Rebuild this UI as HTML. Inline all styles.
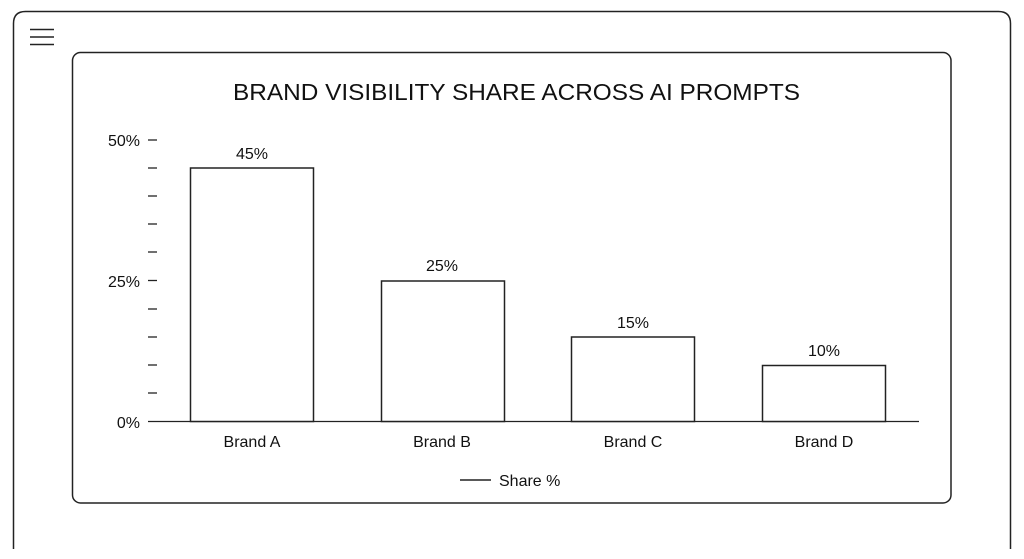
<!DOCTYPE html>
<html><head><style>
html,body{margin:0;padding:0;background:#fff;width:1024px;height:559px;overflow:hidden}
</style></head><body>
<svg width="1024" height="559" xmlns="http://www.w3.org/2000/svg" font-family="Liberation Sans, sans-serif">
<path d="M13.5 549 V23.5 Q13.5 11.5 25.5 11.5 H998.5 Q1010.5 11.5 1010.5 23.5 V549" fill="none" stroke="#222" stroke-width="1.5"/>
<g stroke="#222" stroke-width="1.6"><line x1="30" y1="29.5" x2="54" y2="29.5"/><line x1="30" y1="37" x2="54" y2="37"/><line x1="30" y1="44.5" x2="54" y2="44.5"/></g>
<rect x="72.5" y="52.5" width="878.5" height="450.5" rx="8" fill="#fff" stroke="#222" stroke-width="1.5"/>
<text x="233" y="100" font-size="23.5" fill="#111" textLength="567" lengthAdjust="spacingAndGlyphs">BRAND VISIBILITY SHARE ACROSS AI PROMPTS</text>
<g stroke="#222" stroke-width="1.3">
<line x1="148" y1="140" x2="157" y2="140"/><line x1="148" y1="168" x2="157" y2="168"/><line x1="148" y1="196" x2="157" y2="196"/><line x1="148" y1="224" x2="157" y2="224"/><line x1="148" y1="252" x2="157" y2="252"/><line x1="148" y1="280.5" x2="157" y2="280.5"/><line x1="148" y1="309" x2="157" y2="309"/><line x1="148" y1="337" x2="157" y2="337"/><line x1="148" y1="365" x2="157" y2="365"/><line x1="148" y1="393" x2="157" y2="393"/>
<line x1="148" y1="421.5" x2="919" y2="421.5"/>
</g>
<g font-size="16" fill="#111" text-anchor="end">
<text x="140" y="146">50%</text><text x="140" y="287">25%</text><text x="140" y="428">0%</text>
</g>
<g fill="#fff" stroke="#222" stroke-width="1.5">
<rect x="190.5" y="168" width="123" height="253.5"/>
<rect x="381.5" y="281" width="123" height="140.5"/>
<rect x="571.5" y="337" width="123" height="84.5"/>
<rect x="762.5" y="365.5" width="123" height="56"/>
</g>
<g font-size="16" fill="#111" text-anchor="middle">
<text x="252" y="159">45%</text><text x="442" y="271">25%</text><text x="633" y="328">15%</text><text x="824" y="356">10%</text>
<text x="252" y="447">Brand A</text><text x="442" y="447">Brand B</text><text x="633" y="447">Brand C</text><text x="824" y="447">Brand D</text>
</g>
<line x1="460" y1="480" x2="491" y2="480" stroke="#222" stroke-width="1.5"/>
<text x="499" y="486" font-size="16" fill="#111">Share %</text>
</svg>
</body></html>
